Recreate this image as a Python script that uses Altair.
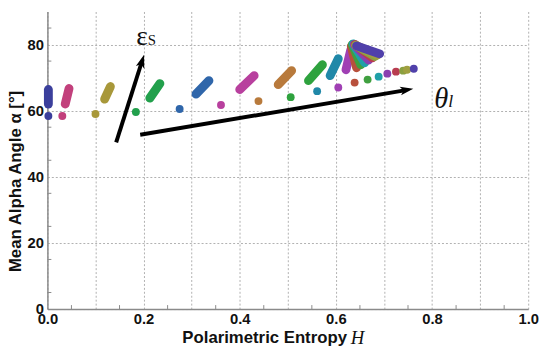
import math
import altair as alt
import pandas as pd

# ---------------- data ----------------
group_ids = [f"g{i:02d}" for i in range(1, 19)]
group_colors = ["#3b3f9c", "#c2407c", "#a8983a", "#22a04c", "#2f66aa", "#b8409e",
                "#b87a3c", "#2ea23e", "#2088a8", "#a040b4", "#b8503c", "#40a040",
                "#20a0a8", "#8a40b0", "#b83c50", "#8aa040", "#a0a040", "#5040aa"]

# isolated lower points
point_H = [0.002, 0.031, 0.100, 0.184, 0.275, 0.361, 0.439, 0.506, 0.561,
           0.605, 0.639, 0.666, 0.689, 0.707, 0.725, 0.740, 0.748, 0.762]
point_A = [58.4, 58.4, 59.0, 59.6, 60.5, 61.7, 62.9, 64.1, 65.9,
           67.0, 68.5, 69.4, 70.3, 71.2, 71.8, 72.1, 72.4, 72.7]

# streaks (start / end)
streak_H0 = [0.002, 0.037, 0.119, 0.213, 0.309, 0.400, 0.480, 0.543, 0.588,
             0.621, 0.643, 0.652, 0.660, 0.668, 0.676, 0.681, 0.686, 0.691]
streak_A0 = [62.0, 62.0, 63.5, 63.8, 65.0, 66.4, 67.9, 69.1, 70.6,
             72.4, 73.0, 73.9, 74.5, 75.3, 76.0, 76.4, 76.8, 77.2]
streak_H1 = [0.002, 0.045, 0.131, 0.234, 0.336, 0.430, 0.508, 0.572, 0.605,
             0.631, 0.632, 0.634, 0.636, 0.638, 0.640, 0.641, 0.642, 0.643]
streak_A1 = [66.4, 66.7, 67.3, 68.2, 69.1, 70.6, 72.1, 73.9, 75.7,
             78.4, 79.5, 80.0, 80.2, 80.0, 80.0, 79.8, 79.7, 79.6]

# arrows (start, tip)
arrow_H0 = [0.143, 0.193]
arrow_A0 = [50.4, 52.7]
arrow_H1 = [0.201, 0.761]
arrow_A1 = [76.9, 66.6]

# axis ticks
x_ticks = [0.0, 0.1, 0.2, 0.3, 0.4, 0.5, 0.6, 0.7, 0.8, 0.9, 1.0]
y_ticks = [0, 10, 20, 30, 40, 50, 60, 70, 80, 90]
x_minor = [0.05, 0.15, 0.25, 0.35, 0.45, 0.55, 0.65, 0.75, 0.85, 0.95]
y_minor = [5, 15, 25, 35, 45, 55, 65, 75, 85]

# annotations
upright_text = ["ε", "S"]
upright_H = [0.197, 0.217]
upright_A = [82.2, 81.3]
upright_size = [28, 15]
italic_text = ["θ", "l"]
italic_H = [0.819, 0.839]
italic_A = [63.5, 62.6]
italic_size = [29, 18]

x_title = "Polarimetric Entropy"
x_title_var = "H"
y_title = "Mean Alpha Angle α [°]"

# ---------------- layout ----------------
W, H = 488, 302
px_x = W / 1.0
px_y = H / 90.0

xs = alt.Scale(domain=[0, 1], nice=False, zero=False)
ys = alt.Scale(domain=[0, 90], nice=False, zero=False)
cs = alt.Scale(domain=group_ids, range=group_colors)

pts = pd.DataFrame({"g": group_ids, "H": point_H, "A": point_A})
rows = []
for i, g in enumerate(group_ids):
    rows.append({"g": g, "o": 0, "H": streak_H0[i], "A": streak_A0[i]})
    rows.append({"g": g, "o": 1, "H": streak_H1[i], "A": streak_A1[i]})
streaks = pd.DataFrame(rows)

arr_rows = []
for h0, a0, h1, a1 in zip(arrow_H0, arrow_A0, arrow_H1, arrow_A1):
    dx = (h1 - h0) * px_x
    dy = (a1 - a0) * px_y
    L = math.hypot(dx, dy)
    ux, uy = dx / L, dy / L
    back = 9.0
    arr_rows.append({"H0": h0, "A0": a0,
                     "He": h1 - ux * back / px_x, "Ae": a1 - uy * back / px_y,
                     "Ht": h1, "At": a1,
                     "ang": math.degrees(math.atan2(dx, dy))})
arrows = pd.DataFrame(arr_rows)

ann_up = pd.DataFrame({"t": upright_text, "H": upright_H, "A": upright_A, "fs": upright_size})
ann_it = pd.DataFrame({"t": italic_text, "H": italic_H, "A": italic_A, "fs": italic_size})

axis_common = dict(
    labelFont="Liberation Sans", labelFontWeight="bold", labelFontSize=15,
    labelColor="#111", titleFont="Liberation Sans", titleFontWeight="bold",
    titleFontSize=17, titleColor="#111", grid=True, gridColor="#b0b0b0",
    gridDash=[2, 2], gridWidth=1, ticks=False, domainColor="#8a8a8a",
    domainWidth=1.5, labelOverlap=False,
)

xaxis = alt.Axis(values=x_ticks, title=x_title,
                 labelExpr="(round(datum.value*10) % 2 == 0) ? format(datum.value, '.1f') : ''",
                 labelFlush=False, labelPadding=3, titleX=220, titleY=21,
                 titleBaseline="top", **axis_common)
yaxis = alt.Axis(values=y_ticks, title=y_title,
                 labelExpr="(datum.value % 20 == 0) ? datum.label : ''",
                 labelPadding=4, titleX=-23, titleY=172, **axis_common)

base_grid = alt.Chart(pts).mark_point(opacity=0).encode(
    x=alt.X("H:Q", scale=xs, axis=xaxis),
    y=alt.Y("A:Q", scale=ys, axis=yaxis),
)

minx = alt.Chart(pd.DataFrame({"H": x_minor})).mark_rule(color="#8a8a8a", strokeWidth=1).encode(
    x=alt.X("H:Q", scale=xs), y=alt.value(H), y2=alt.value(H - 4))
miny = alt.Chart(pd.DataFrame({"A": y_minor})).mark_rule(color="#8a8a8a", strokeWidth=1).encode(
    y=alt.Y("A:Q", scale=ys), x=alt.value(0), x2=alt.value(4))

lines = alt.Chart(streaks).mark_line(strokeWidth=9, strokeCap="round", strokeJoin="round").encode(
    x=alt.X("H:Q", scale=xs), y=alt.Y("A:Q", scale=ys),
    color=alt.Color("g:N", scale=cs, legend=None),
    order="o:Q", detail="g:N")

dots = alt.Chart(pts).mark_circle(size=64, opacity=1).encode(
    x=alt.X("H:Q", scale=xs), y=alt.Y("A:Q", scale=ys),
    color=alt.Color("g:N", scale=cs, legend=None))

shafts = alt.Chart(arrows).mark_rule(color="black", strokeWidth=4).encode(
    x=alt.X("H0:Q", scale=xs), y=alt.Y("A0:Q", scale=ys),
    x2="He:Q", y2="Ae:Q")

heads = alt.Chart(arrows).mark_point(
    shape="M0,0L0.6,1.8L0,1.35L-0.6,1.8Z", size=220, filled=True,
    color="black", opacity=1, strokeWidth=0).encode(
    x=alt.X("Ht:Q", scale=xs), y=alt.Y("At:Q", scale=ys),
    angle=alt.Angle("ang:Q", scale=None))

labels_up = alt.Chart(ann_up).mark_text(font="Liberation Serif", color="#111").encode(
    x=alt.X("H:Q", scale=xs), y=alt.Y("A:Q", scale=ys), text="t:N",
    size=alt.Size("fs:Q", scale=None))
labels_it = alt.Chart(ann_it).mark_text(font="Liberation Serif", fontStyle="italic", color="#111").encode(
    x=alt.X("H:Q", scale=xs), y=alt.Y("A:Q", scale=ys), text="t:N",
    size=alt.Size("fs:Q", scale=None))

xvar = alt.Chart(pd.DataFrame({"t": [x_title_var]})).mark_text(
    font="Liberation Serif", fontStyle="italic", fontSize=19, color="#111",
    align="left", baseline="alphabetic").encode(
    x=alt.value(308), y=alt.value(H + 35), text="t:N")

chart = alt.layer(base_grid, minx, miny, lines, dots, shafts, heads, labels_up, labels_it, xvar).properties(
    width=W, height=H,
    autosize=alt.AutoSizeParams(type="none"),
    padding={"left": 40, "top": 1, "right": 14, "bottom": 38},
).configure_view(strokeWidth=0)

chart.save("out.html", embed_options={"renderer": "svg", "actions": False})
